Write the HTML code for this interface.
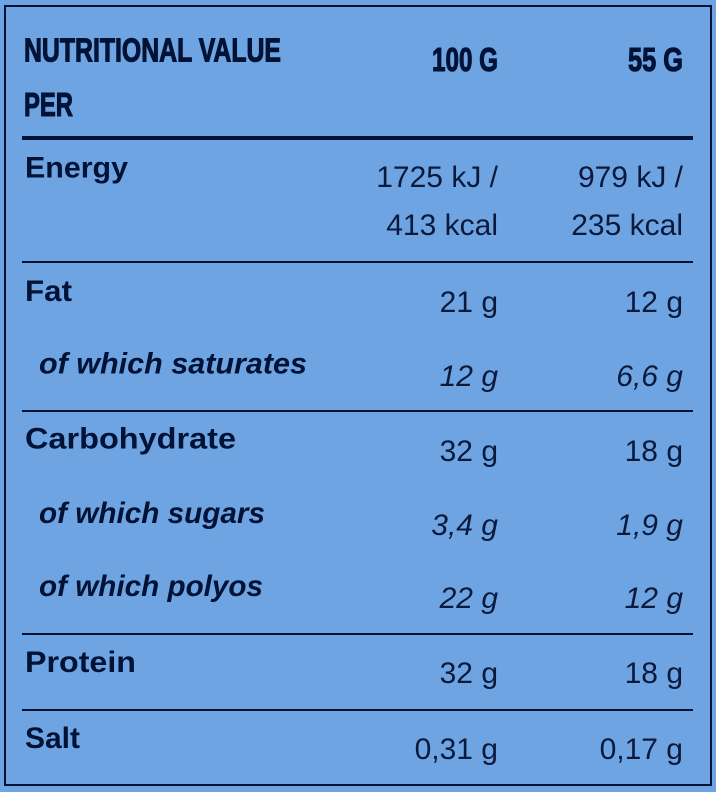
<!DOCTYPE html>
<html>
<head>
<meta charset="utf-8">
<style>
  html,body{margin:0;padding:0;background:#6fa4e2;}
  body{width:716px;height:792px;overflow:hidden;}
  svg{display:block;}
  .h{font-family:"Liberation Sans",sans-serif;font-weight:bold;font-size:33px;fill:#001236;stroke:#001236;stroke-width:1.1px;}
  .l{font-family:"Liberation Sans",sans-serif;font-weight:bold;font-size:30px;fill:#001236;}
  .li{font-family:"Liberation Sans",sans-serif;font-weight:bold;font-style:italic;font-size:30px;fill:#001236;}
  .v{font-family:"Liberation Sans",sans-serif;font-weight:normal;font-size:30px;fill:#0a1a3c;}
  .vi{font-family:"Liberation Sans",sans-serif;font-weight:normal;font-style:italic;font-size:30px;fill:#0a1a3c;}
</style>
</head>
<body>
<svg width="716" height="792" viewBox="0 0 716 792" xmlns="http://www.w3.org/2000/svg">
  <rect x="0" y="0" width="716" height="792" fill="#6fa4e2"/>
  <rect x="5" y="6" width="706" height="779" fill="none" stroke="#001236" stroke-width="2"/>

  <!-- header -->
  <text class="h" x="24" y="61.5" textLength="257" lengthAdjust="spacingAndGlyphs">NUTRITIONAL VALUE</text>
  <text class="h" x="24" y="116" textLength="49" lengthAdjust="spacingAndGlyphs">PER</text>
  <text class="h" x="432" y="71" textLength="66" lengthAdjust="spacingAndGlyphs">100 G</text>
  <text class="h" x="628" y="71" textLength="55" lengthAdjust="spacingAndGlyphs">55 G</text>
  <rect x="22" y="136" width="671" height="4" fill="#001236"/>

  <!-- Energy -->
  <text class="l" x="25" y="177.5" textLength="103" lengthAdjust="spacingAndGlyphs">Energy</text>
  <text class="v" x="498" y="187" text-anchor="end">1725 kJ /</text>
  <text class="v" x="683" y="187" text-anchor="end">979 kJ /</text>
  <text class="v" x="498" y="235" text-anchor="end">413 kcal</text>
  <text class="v" x="683" y="235" text-anchor="end">235 kcal</text>
  <rect x="22" y="261" width="671" height="2" fill="#001236"/>

  <!-- Fat -->
  <text class="l" x="25" y="301" textLength="47" lengthAdjust="spacingAndGlyphs">Fat</text>
  <text class="v" x="498" y="312" text-anchor="end">21 g</text>
  <text class="v" x="683" y="312" text-anchor="end">12 g</text>
  <text class="li" x="39" y="373.5" textLength="268" lengthAdjust="spacingAndGlyphs">of which saturates</text>
  <text class="vi" x="498" y="386" text-anchor="end">12 g</text>
  <text class="vi" x="683" y="386" text-anchor="end">6,6 g</text>
  <rect x="22" y="410" width="671" height="2" fill="#001236"/>

  <!-- Carbohydrate -->
  <text class="l" x="25" y="448.5" textLength="211" lengthAdjust="spacingAndGlyphs">Carbohydrate</text>
  <text class="v" x="498" y="461" text-anchor="end">32 g</text>
  <text class="v" x="683" y="461" text-anchor="end">18 g</text>
  <text class="li" x="39" y="523" textLength="226" lengthAdjust="spacingAndGlyphs">of which sugars</text>
  <text class="vi" x="498" y="535" text-anchor="end">3,4 g</text>
  <text class="vi" x="683" y="535" text-anchor="end">1,9 g</text>
  <text class="li" x="39" y="596" textLength="224" lengthAdjust="spacingAndGlyphs">of which polyos</text>
  <text class="vi" x="498" y="608" text-anchor="end">22 g</text>
  <text class="vi" x="683" y="608" text-anchor="end">12 g</text>
  <rect x="22" y="633" width="671" height="2" fill="#001236"/>

  <!-- Protein -->
  <text class="l" x="25" y="672" textLength="111" lengthAdjust="spacingAndGlyphs">Protein</text>
  <text class="v" x="498" y="683" text-anchor="end">32 g</text>
  <text class="v" x="683" y="683" text-anchor="end">18 g</text>
  <rect x="22" y="709" width="671" height="2" fill="#001236"/>

  <!-- Salt -->
  <text class="l" x="25" y="748" textLength="55" lengthAdjust="spacingAndGlyphs">Salt</text>
  <text class="v" x="498" y="759" text-anchor="end">0,31 g</text>
  <text class="v" x="683" y="759" text-anchor="end">0,17 g</text>
</svg>
</body>
</html>
